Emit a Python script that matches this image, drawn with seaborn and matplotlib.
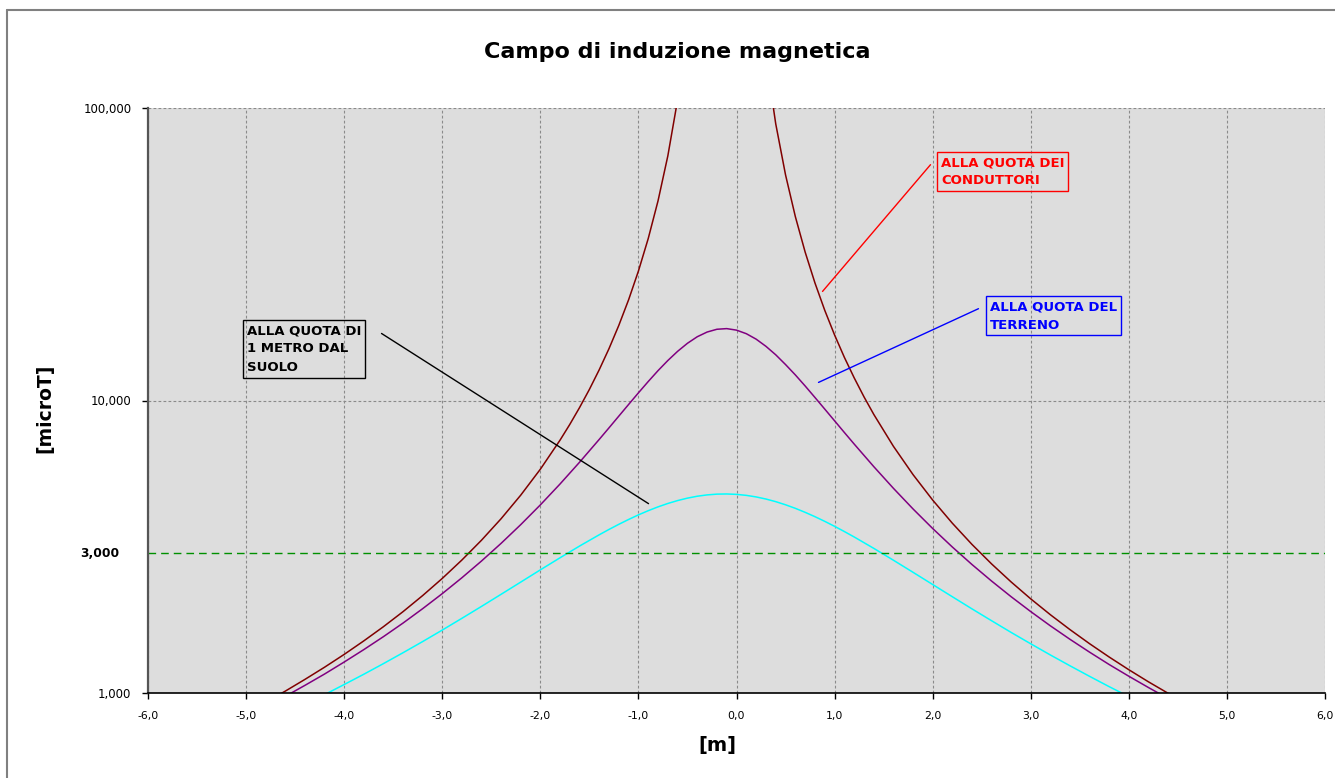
import numpy as np
import pandas as pd
import matplotlib
matplotlib.use('Agg')
import matplotlib.pyplot as plt
import matplotlib.ticker as mticker
from matplotlib.lines import Line2D
from matplotlib.transforms import blended_transform_factory
import seaborn as sns

# valori (x in m, campo in microT)
x_grid = [-4.8, -4.6, -4.4, -4.2, -4.0, -3.8, -3.6, -3.4, -3.2, -3.0, -2.8, -2.6,
          -2.4, -2.2, -2.0, -1.8, -1.6, -1.4, -1.3, -1.2, -1.1, -1.0, -0.9, -0.8,
          -0.7, -0.6, -0.5, -0.4, -0.3, -0.2, -0.1, 0.0, 0.1, 0.2, 0.3, 0.4,
          0.5, 0.6, 0.7, 0.8, 0.9, 1.0, 1.1, 1.2, 1.4, 1.6, 1.8, 2.0, 2.2,
          2.4, 2.6, 2.8, 3.0, 3.2, 3.4, 3.6, 3.8, 4.0, 4.2, 4.4, 4.6]

b_terreno = [0.897, 0.974, 1.062, 1.161, 1.276, 1.407, 1.558, 1.734, 1.942, 2.186, 2.477, 2.826,
             3.248, 3.763, 4.396, 5.179, 6.152, 7.359, 8.063, 8.842, 9.694, 10.62, 11.61, 12.65,
             13.70, 14.73, 15.69, 16.52, 17.14, 17.52, 17.61, 17.40, 16.92, 16.21, 15.32, 14.33,
             13.27, 12.23, 11.21, 10.24, 9.344, 8.522, 7.772, 7.096, 5.940, 5.009, 4.258, 3.651, 3.157,
             2.751, 2.415, 2.134, 1.898, 1.697, 1.526, 1.379, 1.251, 1.141, 1.044, 0.958, 0.883]

b_1metro = [0.789, 0.849, 0.914, 0.987, 1.069, 1.159, 1.260, 1.373, 1.499, 1.641, 1.800, 1.977,
            2.175, 2.394, 2.636, 2.898, 3.180, 3.474, 3.624, 3.773, 3.920, 4.064, 4.200, 4.329,
            4.446, 4.549, 4.637, 4.707, 4.756, 4.785, 4.791, 4.776, 4.739, 4.681, 4.604, 4.510,
            4.400, 4.279, 4.146, 4.007, 3.862, 3.714, 3.564, 3.415, 3.122, 2.844, 2.586, 2.349, 2.134,
            1.940, 1.767, 1.611, 1.473, 1.349, 1.239, 1.140, 1.051, 0.972, 0.901, 0.836, 0.778]

x_cond = [-4.8, -4.6, -4.4, -4.2, -4.0, -3.8, -3.6, -3.4, -3.2, -3.0, -2.8, -2.6,
          -2.4, -2.2, -2.0, -1.8, -1.7, -1.6, -1.5, -1.4, -1.3, -1.2, -1.1, -1.0,
          -0.9, -0.8, -0.7, -0.6, -0.5,
          0.3, 0.4, 0.5, 0.6, 0.7, 0.8, 0.9, 1.0, 1.1, 1.2, 1.3, 1.4,
          1.6, 1.8, 2.0, 2.2, 2.4, 2.6, 2.8, 3.0, 3.2, 3.4, 3.6, 3.8, 4.0, 4.2, 4.4, 4.6]
b_cond = [0.930, 1.015, 1.113, 1.225, 1.355, 1.507, 1.685, 1.897, 2.153, 2.464, 2.848, 3.329,
          3.943, 4.746, 5.821, 7.311, 8.280, 9.460, 10.91, 12.73, 15.04, 18.06, 22.10, 27.70,
          35.78, 48.15, 68.62, 106.8, 194.8,
          149.1, 88.28, 59.06, 42.52, 32.16, 25.22, 20.33, 16.75, 14.04, 11.95, 10.29, 8.959,
          6.971, 5.579, 4.567, 3.808, 3.223, 2.764, 2.397, 2.098, 1.852, 1.647, 1.474, 1.327,
          1.201, 1.092, 0.998, 0.915]
ramo_cond = ['sx'] * 29 + ['dx'] * 28

limite = 3.0

x_ticks = [-6, -5, -4, -3, -2, -1, 0, 1, 2, 3, 4, 5, 6]
x_tick_labels = ['-6,0', '-5,0', '-4,0', '-3,0', '-2,0', '-1,0', '0,0',
                 '1,0', '2,0', '3,0', '4,0', '5,0', '6,0']
y_ticks = [1, 10, 100]
y_tick_labels = ['1,000', '10,000', '100,000']

sns.set_style('white')
plt.rcParams['font.family'] = ['DejaVu Sans']
plt.rcParams['text.color'] = 'black'
plt.rcParams['xtick.color'] = 'black'
plt.rcParams['ytick.color'] = 'black'

W, H = 1335, 778
fig = plt.figure(figsize=(W / 100, H / 100), dpi=100)
fig.patch.set_facecolor('white')
ax = fig.add_axes([148 / W, 1 - 693 / H, (1325 - 148) / W, (693 - 108) / H])
ax.set_facecolor('#dddddd')

df_cond = pd.DataFrame({'x': x_cond, 'b': b_cond, 'ramo': ramo_cond})
for ramo, sub in df_cond.groupby('ramo'):
    sns.lineplot(data=sub, x='x', y='b', ax=ax, color='#800000', lw=1.1,
                 estimator=None, sort=False, legend=False)
sns.lineplot(x=x_grid, y=b_terreno, ax=ax, color='#800080', lw=1.1,
             estimator=None, sort=False)
sns.lineplot(x=x_grid, y=b_1metro, ax=ax, color='#00ffff', lw=1.1,
             estimator=None, sort=False)
ax.axhline(limite, color='#009000', lw=1.0, ls=(0, (5.5, 3.6)))

ax.set_yscale('log')
ax.set_xlim(-6, 6)
ax.set_ylim(1, 100)
ax.xaxis.set_major_locator(mticker.FixedLocator(x_ticks))
ax.xaxis.set_major_formatter(mticker.FixedFormatter(x_tick_labels))
ax.yaxis.set_major_locator(mticker.FixedLocator(y_ticks))
ax.yaxis.set_major_formatter(mticker.FixedFormatter(y_tick_labels))
ax.yaxis.set_minor_locator(mticker.NullLocator())
ax.set_xlabel('')
ax.set_ylabel('')
ax.grid(True, color='#8a8a8a', ls=(0, (2.5, 2)), lw=0.8)
ax.set_axisbelow(True)

for s in ['top', 'right']:
    ax.spines[s].set_visible(False)
ax.spines['left'].set_color('#555555')
ax.spines['left'].set_linewidth(1.6)
ax.spines['bottom'].set_color('black')
ax.spines['bottom'].set_linewidth(1.2)
ax.tick_params(axis='x', direction='out', length=4, width=1, colors='black',
               labelsize=7.8, pad=9, bottom=True)
ax.tick_params(axis='y', direction='out', length=4, width=1, colors='black',
               labelsize=8.5, pad=8, left=True)

# etichetta del limite
tr = blended_transform_factory(ax.transAxes, ax.transData)
ax.text(-0.024, limite, '3,000', transform=tr, ha='right', va='center',
        fontsize=8.8, fontweight='bold')

# annotazioni
def box(px, py, testo, colore, punto):
    ax.annotate('', xy=punto[0], xytext=punto[1], xycoords='data', textcoords='data',
                arrowprops=dict(arrowstyle='-', color=colore, lw=1.0,
                                shrinkA=0, shrinkB=0))
    ax.text((px - 148) / 1177, (693 - py) / 585, testo, transform=ax.transAxes,
            ha='left', va='top', color=colore, fontsize=9.5, fontweight='bold',
            linespacing=1.55,
            bbox=dict(boxstyle='square,pad=0.3', fc='none', ec=colore, lw=1.0))

box(941, 156, 'ALLA QUOTA DEI\nCONDUTTORI', '#ff0000',
    [(0.877, 23.6), (1.978, 64.0)])
box(990, 300, 'ALLA QUOTA DEL\nTERRENO', '#0000ff',
    [(0.836, 11.53), (2.467, 20.6)])
box(247, 324, 'ALLA QUOTA DI\n1 METRO DAL\nSUOLO', '#000000',
    [(-0.897, 4.44), (-3.619, 16.95)])

fig.text(677 / W, 1 - 52 / H, 'Campo di induzione magnetica', ha='center', va='center',
         fontsize=16, fontweight='bold')
fig.text(45 / W, 1 - 408 / H, '[microT]', ha='center', va='center', rotation=90,
         fontsize=13.5, fontweight='bold')
fig.text(717 / W, 1 - 745 / H, '[m]', ha='center', va='center',
         fontsize=14, fontweight='bold')

# cornice del grafico
fig.add_artist(Line2D([7 / W, 7 / W], [0, 1 - 10 / H], color='#808080', lw=1.5))
fig.add_artist(Line2D([7 / W, 1], [1 - 10 / H, 1 - 10 / H], color='#808080', lw=1.5))

fig.savefig('out.png', dpi=100)
